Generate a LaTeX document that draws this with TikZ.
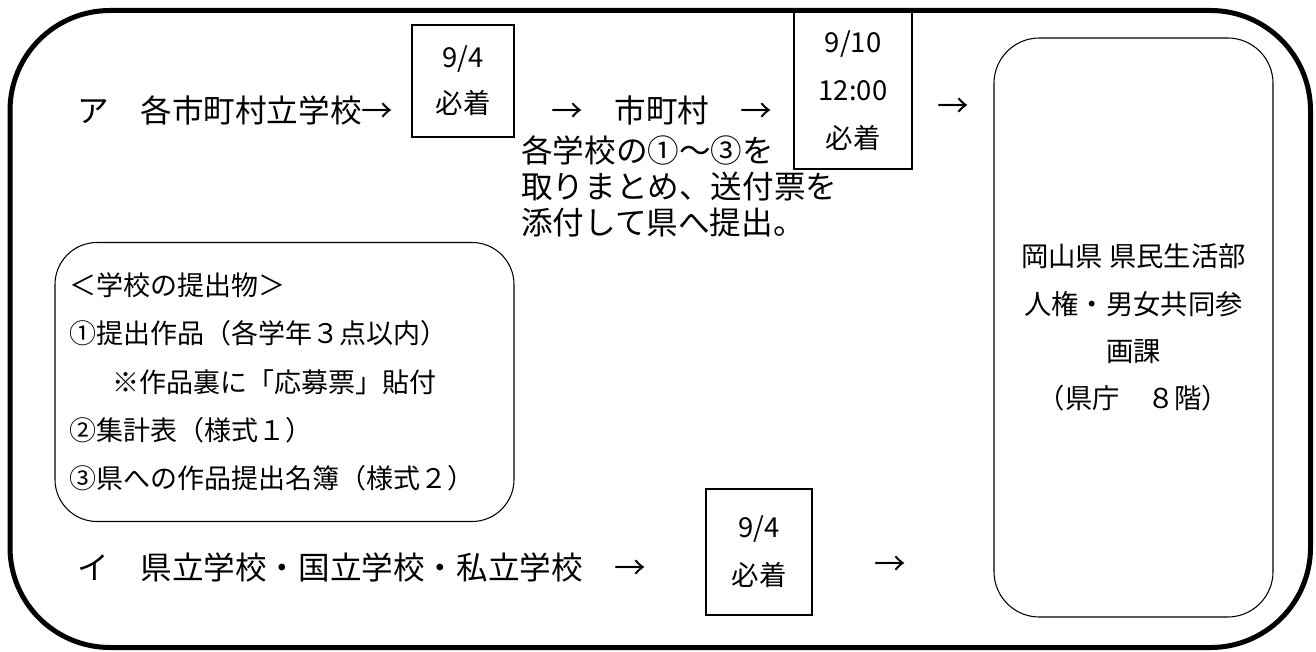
\documentclass[tikz,border=0pt]{standalone}
\usepackage{fontspec}
\setmainfont{Noto Sans CJK JP}
\usepackage{tikz}
\usetikzlibrary{positioning}

\begin{document}
\begin{tikzpicture}[x=0.75pt,y=0.75pt,yscale=-1,xscale=1]
  \tikzstyle{duebox} = [draw,line width=0.8pt,inner sep=0pt,align=center,font=\fontsize{20.6}{36}\selectfont]
  \tikzstyle{roundbox} = [draw,line width=0.8pt,inner sep=0pt]
  \tikzstyle{rowtext} = [inner sep=0pt,font=\fontsize{23.7}{27}\selectfont]
  \useasboundingbox (0,0) rectangle (1316,652);
  %Draw the outer frame
  \draw [line width=3.75pt,rounded corners=75pt] (10,10.5) rectangle (1310.5,647.5);

  %Draw the boxes with the deadlines
  \draw (463,81) node (due1) [duebox,minimum width=76.5pt,minimum height=84pt,font=\fontsize{20.6}{34.5}\selectfont] {9/4\\必着};
  \draw (853,90.5) node (due2) [duebox,minimum width=88.5pt,minimum height=117.75pt] {9/10\\12:00\\必着};
  \draw (759,552) node (due3) [duebox,minimum width=79.5pt,minimum height=94.5pt] {9/4\\必着};

  %Draw the office box on the right
  \draw (1133.5,327.5) node (office) [roundbox,rounded corners=34pt,minimum width=209.25pt,minimum height=434.25pt,align=center,font=\fontsize{20.5}{35.5}\selectfont] {岡山県 県民生活部\\人権・男女共同参\\画課\\（県庁　８階）};

  %Draw the list of what the schools send
  \draw (284.5,382) node (items) [roundbox,rounded corners=31.5pt,minimum width=344.25pt,minimum height=209.25pt,text width=323pt,inner xsep=10.5pt,align=left,font=\fontsize{20.25}{36.2}\selectfont] {＜学校の提出物＞\\①提出作品（各学年３点以内）\\\hspace*{1.6em}※作品裏に「応募票」貼付\\②集計表（様式１）\\③県への作品提出名簿（様式２）};

  % Label the rows
  \draw (77,110) node (rowA) [rowtext,anchor=west] {ア　各市町村立学校→};
  \draw (551,110) node (toCity) [rowtext,anchor=west] {→　市町村　→};
  \draw (953,108) node (toPref) [rowtext] {→};
  \draw (521,186) node (cityNote) [rowtext,anchor=west,align=left] {各学校の①～③を\\取りまとめ、送付票を\\添付して県へ提出。};
  \draw (77,567) node (rowB) [rowtext,anchor=west] {イ　県立学校・国立学校・私立学校　→};
  \draw (890,566) node (toOffice) [rowtext] {→};
\end{tikzpicture}
\end{document}
